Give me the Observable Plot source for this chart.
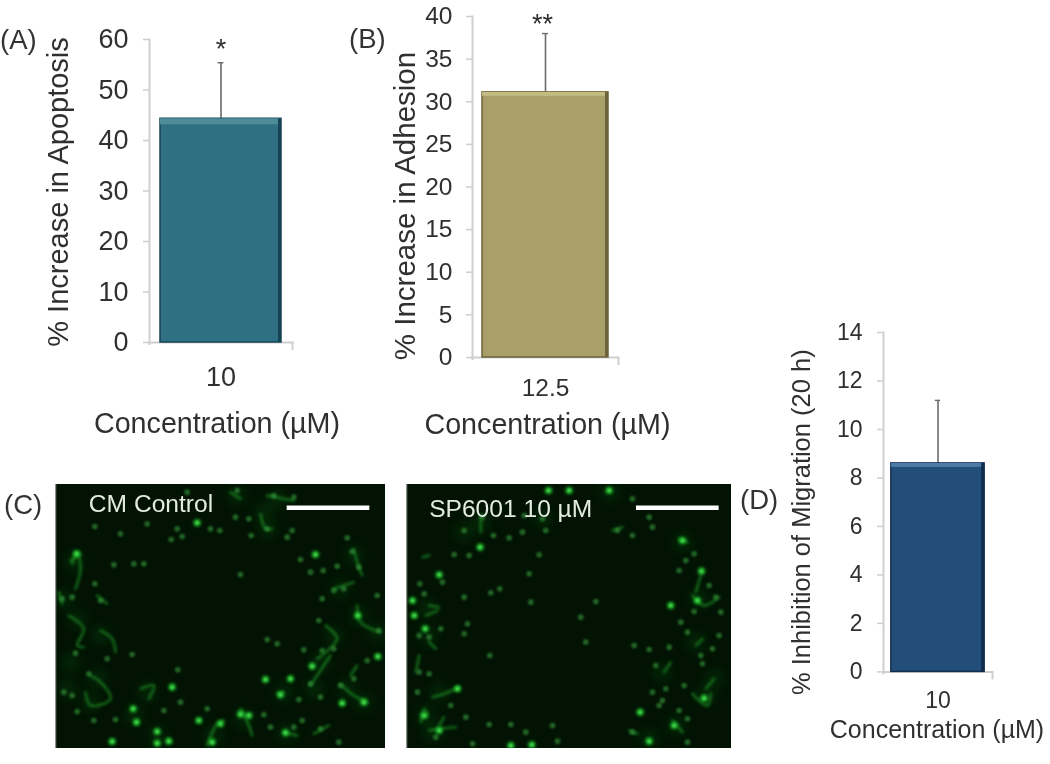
<!DOCTYPE html>
<html><head><meta charset="utf-8">
<script src="https://cdn.jsdelivr.net/npm/d3@7"></script>
<script src="https://cdn.jsdelivr.net/npm/@observablehq/plot@0.6"></script>
<style>
html,body{margin:0;padding:0;background:#fff}
#page{position:relative;width:1050px;height:764px;overflow:hidden;filter:blur(.7px);font-family:"Liberation Sans",Arial,sans-serif}
.tag{position:absolute;font-size:27.5px;color:#333;line-height:1}
</style></head><body><div id="page"></div>
<script>
// ---------- bar chart values ----------
const apoptosisCategory = ["10"], apoptosisValue = [44.3], apoptosisErrorTop = [55.4], apoptosisTicks = [0,10,20,30,40,50,60];
const adhesionCategory = ["12.5"], adhesionValue = [31.1], adhesionErrorTop = [38], adhesionTicks = [0,5,10,15,20,25,30,35,40];
const migrationCategory = ["10"], migrationValue = [8.6], migrationErrorTop = [11.2], migrationTicks = [0,2,4,6,8,10,12,14];

// ---------- micrograph features (image units) ----------
const controlBright = [[408,740],[470,768],[470,803],[505,797],[595,735],[870,610],[720,716],[935,572],[335,798],[945,237],[228,235],[590,142],[1132,543],[840,658],[855,772],[1025,683],[398,700],[515,635],[795,612],[745,720],[1072,420],[660,745],[635,800],[1090,680]];
const controlDim = [[283,153],[283,325],[225,533],[340,268],[400,265],[430,265],[512,192],[545,183],[630,160],[658,165],[752,180],[800,160],[860,185],[875,165],[1040,187],[1055,228],[900,252],[930,290],[968,285],[1010,272],[1075,275],[720,297],[965,370],[955,435],[1000,345],[1030,340],[800,492],[830,505],[910,523],[965,525],[532,583],[540,680],[490,705],[345,732],[280,735],[230,708],[190,650],[215,660],[265,595],[320,550],[395,537],[215,365],[185,370],[300,375],[1130,360],[1135,465],[1020,630],[1060,610],[960,665],[895,672],[905,735],[880,755],[810,755],[790,718],[1015,800],[960,760],[930,625],[1100,555],[1000,520],[620,700],[440,145],[360,175],[530,160],[705,125],[745,130],[820,60],[710,45],[880,65],[560,50]];
const controlHaze = [[220,260],[190,370],[230,430],[300,480],[210,560],[290,610],[270,680],[200,640],[400,720],[470,780],[640,780],[730,730],[800,160],[790,110],[830,70],[1060,240],[1075,420],[1000,480],[960,560],[1040,640],[1090,680],[940,640],[850,650],[860,775],[1130,470],[1020,340],[710,60],[440,650]];
const controlFilaments = [[[175,350],[185,385]],[[215,265],[230,230],[240,280],[225,340]],[[205,420],[250,460],[230,510],[250,515]],[[300,465],[335,490],[345,530]],[[290,360],[320,385]],[[270,600],[300,620],[330,670],[270,690],[255,650]],[[420,640],[460,630],[445,670]],[[620,810],[650,745],[670,735]],[[720,700],[745,750],[755,780]],[[850,770],[890,780]],[[940,775],[985,750]],[[1070,390],[1080,440],[1140,470]],[[975,450],[1010,490],[950,550]],[[1020,625],[1060,660],[1100,680]],[[1060,220],[1070,260],[1085,300]],[[800,60],[850,70],[880,75]],[[780,115],[795,160],[815,160]],[[830,655],[850,650]],[[210,255],[240,235]],[[1000,340],[1060,320]],[[1050,600],[1070,570]],[[930,630],[950,600],[990,540]],[[690,50],[720,70]]];
const treatedBright = [[85,720],[345,810],[760,797],[733,710],[825,390],[50,375],[55,420],[253,215],[130,298],[917,287],[130,765],[88,460],[860,195],[185,640],[408,808],[835,750],[925,668],[905,375],[458,45],[520,45],[640,45]];
const treatedDim = [[72,325],[85,355],[140,320],[175,237],[220,240],[205,365],[285,352],[312,340],[400,295],[430,238],[405,380],[600,378],[555,425],[570,500],[282,540],[205,475],[215,445],[70,480],[135,460],[100,485],[65,650],[100,595],[70,590],[280,747],[345,747],[390,770],[485,797],[470,750],[230,805],[165,690],[120,785],[210,725],[340,187],[380,170],[293,180],[205,165],[450,165],[665,165],[710,180],[770,155],[870,255],[850,285],[895,235],[895,408],[855,440],[875,470],[960,365],[940,330],[975,410],[970,480],[950,520],[820,515],[760,522],[780,570],[920,565],[865,630],[770,650],[800,675],[790,690],[875,730],[850,705],[710,770],[875,800],[810,640],[715,510],[915,540],[260,125],[385,120],[440,130],[760,125],[710,70]];
const treatedHaze = [[90,720],[130,650],[110,770],[95,480],[95,400],[205,170],[255,140],[440,130],[640,50],[860,200],[910,370],[930,660],[840,750],[760,790],[900,500],[800,590],[955,610]];
const treatedFilaments = [[[75,740],[85,700],[95,720]],[[100,765],[130,760],[180,755]],[[110,665],[145,655],[190,635]],[[130,750],[145,725]],[[830,735],[860,770]],[[700,765],[725,775]],[[890,655],[935,690],[945,655]],[[955,610],[930,640]],[[890,360],[925,390],[970,365]],[[900,350],[915,300]],[[805,590],[825,560]],[[920,490],[900,510]],[[255,120],[255,170]],[[650,165],[680,155]],[[850,190],[875,200]],[[70,540],[60,590]],[[80,245],[100,240]],[[100,390],[130,395]],[[90,420],[125,405]],[[100,500],[120,520]]];

// ---------- text ----------
const xTitle = "Concentration (µM)";
const apoptosisTitle = "% Increase in Apoptosis", adhesionTitle = "% Increase in Adhesion", migrationTitle = "% Inhibition of Migration (20 h)";
const apoptosisStars = "*", adhesionStars = "**";
const controlCaption = "CM Control", treatedCaption = "SP6001 10 µM";

const page = document.getElementById("page");
const font = '"Liberation Sans", Arial, sans-serif', ink = "#303030", axisGrey = "#cfcfcf";

function barPanel(c){
  const W = c.right - c.left + c.ml + c.mr, H = c.bottom - c.top + c.mt + c.mb;
  const awidth = c.right - c.left, top = c.ticks[c.ticks.length-1];
  const px = top / (c.bottom - c.top);            // value per pixel
  const row = c.cat.map((k,i)=>({k, v:c.val[i], e:c.err[i]}));
  const svg = Plot.plot({
    width:W, height:H, marginLeft:c.ml, marginRight:c.mr, marginTop:c.mt, marginBottom:c.mb,
    style:{position:"absolute",left:(c.left-c.ml)+"px",top:(c.top-c.mt)+"px",background:"transparent",fontFamily:font,overflow:"visible"},
    x:{domain:c.cat, padding:c.pad, round:false, label:null},
    y:{domain:[0,top], label:null},
    marks:[
      Plot.frame({anchor:"left",stroke:axisGrey,strokeWidth:2}),
      Plot.frame({anchor:"bottom",stroke:axisGrey,strokeWidth:2}),
      Plot.ruleX(c.cat,{x:d=>d,y1:0,y2:-8*px,dx:awidth/2,stroke:axisGrey,strokeWidth:2}),
      Plot.ruleX(c.cat,{x:d=>d,y1:0,y2:-3*px,dx:-awidth/2,stroke:axisGrey,strokeWidth:2}),
      Plot.axisY(c.ticks,{label:null,tickSize:6,tickPadding:c.tp,fontSize:c.tickFont,stroke:axisGrey,fill:ink,strokeWidth:1.5}),
      Plot.axisX(c.cat,{label:null,tickSize:0,tickPadding:c.xtp,fontSize:c.xFont,fill:ink}),
      Plot.ruleX(row,{x:"k",y1:"v",y2:"e",stroke:"#6a6a6a",strokeWidth:1.6}),
      Plot.tickY(row,{x:"k",y:"e",stroke:"#6a6a6a",strokeWidth:1.4,
        insetLeft:c.capInset,insetRight:c.capInset}),
      Plot.barY(row,{x:"k",y:"v",fill:c.fill,stroke:c.edge,strokeWidth:1.5}),
      Plot.barY(row,{x:"k",y1:d=>d.v-c.hl*px,y2:"v",fill:c.high}),
      Plot.barY(row,{x:"k",y:"v",fill:c.edge,insetLeft:c.barW-3}),
      c.stars ? Plot.text(row,{x:"k",y:"e",text:()=>c.stars,dx:c.sdx,dy:c.sdy,fontSize:c.starFont,fill:ink,lineAnchor:"top"}) : null,
      Plot.text([c.ytitle],{text:d=>d,frameAnchor:"left",rotate:-90,textAnchor:"middle",dx:c.ydx,dy:c.ydy,fontSize:c.yFont,fill:ink,lineAnchor:"middle"}),
      Plot.text([xTitle],{text:d=>d,frameAnchor:"bottom",textAnchor:"middle",dx:c.xdx,dy:c.xdy,fontSize:c.xtFont,fill:ink,lineAnchor:"middle"})
    ]
  });
  page.appendChild(svg);
}

barPanel({cat:apoptosisCategory,val:apoptosisValue,err:apoptosisErrorTop,ticks:apoptosisTicks,
  left:149,right:292,top:38.5,bottom:341.5,ml:109,mr:48,mt:30,mb:105,pad:.0833,barW:121,
  tp:15,tickFont:27,xtp:24,xFont:27,capInset:57.5,hl:6,
  fill:"#2f7083",edge:"#174454",high:"#4f8c9a",
  stars:apoptosisStars,sdx:0,sdy:-24,starFont:27,ytitle:apoptosisTitle,ydx:-91,ydy:1,yFont:29,xdx:-4,xdy:81,xtFont:28.7});

barPanel({cat:adhesionCategory,val:adhesionValue,err:adhesionErrorTop,ticks:adhesionTicks,
  left:471.7,right:617.7,top:16,bottom:357,ml:90,mr:40,mt:16,mb:95,pad:.0736,barW:126,
  tp:14,tickFont:24.5,xtp:21,xFont:24.5,capInset:60,hl:4,
  fill:"#a99f69",edge:"#6b6238",high:"#c4bb84",
  stars:adhesionStars,sdx:-3,sdy:-20,starFont:27,ytitle:adhesionTitle,ydx:-67,ydy:19,yFont:29.5,xdx:2,xdy:67,xtFont:28.7});

barPanel({cat:migrationCategory,val:migrationValue,err:migrationErrorTop,ticks:migrationTicks,
  left:882.7,right:991.7,top:332.3,bottom:671.7,ml:95,mr:58,mt:20,mb:85,pad:.0776,barW:93.3,
  tp:15,tickFont:23,xtp:20,xFont:23,capInset:44,hl:4,
  fill:"#234e79",edge:"#122e4e",high:"#4d7ba8",
  stars:null,ytitle:migrationTitle,ydx:-82,ydy:20,yFont:25.5,xdx:-1,xdy:58,xtFont:25});

function imagePanel(c){
  const lines = c.filaments.flatMap((pts,i)=>pts.map(p=>({x:p[0],y:p[1],i})));
  const svg = Plot.plot({
    width:c.w, height:c.h, margin:0,
    style:{position:"absolute",left:c.left+"px",top:c.top+"px",background:"#021303",fontFamily:font},
    x:{domain:c.xd,axis:null},
    y:{domain:[27,820],reverse:true,axis:null},
    marks:[
      Plot.dot(c.haze,{x:"0",y:"1",r:10,fill:"#0e7a16",fillOpacity:.16,imageFilter:"blur(5px)"}),
      Plot.line(lines,{x:"x",y:"y",z:"i",stroke:"#1f9a28",strokeWidth:2.4,strokeOpacity:.7,curve:"catmull-rom",imageFilter:"blur(1.6px)"}),
      Plot.dot(c.dim,{x:"0",y:"1",r:2.8,fill:"#3aa040",fillOpacity:.6,imageFilter:"blur(1.2px)"}),
      Plot.dot(c.bright,{x:"0",y:"1",r:3.8,fill:"#1fc02a",fillOpacity:.85,imageFilter:"blur(1.6px)"}),
      Plot.dot(c.bright,{x:"0",y:"1",r:1.5,fill:"#5ff068",imageFilter:"blur(1px)"}),
      Plot.ruleY([c.barY],{x1:c.bar[0],x2:c.bar[1],stroke:"#fff",strokeWidth:4.5}),
      Plot.text([c.caption],{text:d=>d,x:c.capX,y:c.capY,textAnchor:"start",fontSize:24.6,fill:"#e4ebe2",lineAnchor:"middle"}),
      Plot.frame({anchor:"left",stroke:"#8a938a",strokeWidth:1.5}),
      Plot.frame({anchor:"bottom",stroke:"#8a938a",strokeWidth:1.5})
    ]
  });
  page.appendChild(svg);
}
imagePanel({left:55,top:484,w:330,h:264.3,xd:[165,1155],bright:controlBright,dim:controlDim,haze:controlHaze,filaments:controlFilaments,
  barY:97,bar:[860,1108],caption:controlCaption,capX:265,capY:86});
imagePanel({left:405.7,top:484,w:325.3,h:264.3,xd:[32,1008],bright:treatedBright,dim:treatedDim,haze:treatedHaze,filaments:treatedFilaments,
  barY:97,bar:[722,970],caption:treatedCaption,capX:100,capY:100});

[["(A)",0,26],["(B)",349,25],["(C)",4,491],["(D)",740,486]].forEach(([t,x,y])=>{
  const d=document.createElement("div");d.className="tag";d.textContent=t;d.style.left=x+"px";d.style.top=y+"px";page.appendChild(d);
});
</script></body></html>
